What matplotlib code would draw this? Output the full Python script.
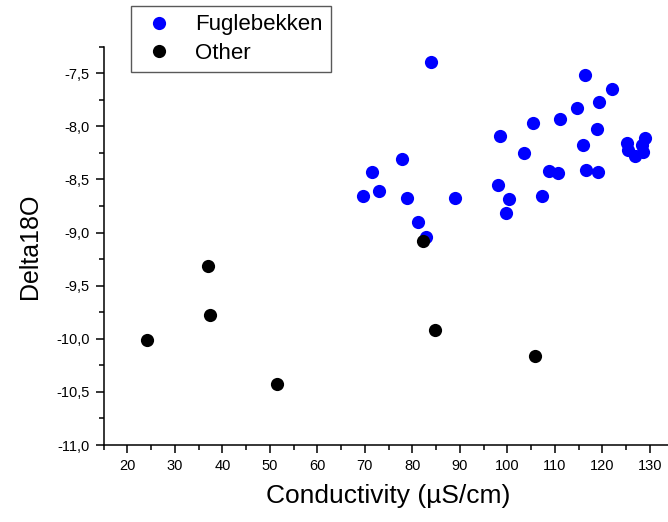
"""
Delta18O against conductivity, Fuglebekken samples vs other sites.
"""

import matplotlib
matplotlib.use("Agg")
from matplotlib import pyplot as plt
from matplotlib.ticker import MultipleLocator, FuncFormatter

plt.rcParams['font.family'] = ['Liberation Sans', 'DejaVu Sans']

# Fuglebekken samples: conductivity (uS/cm), delta18O
fugle_cond = [84.0, 116.3, 122.1, 119.3, 114.7, 111.0, 105.4, 98.5, 118.9, 116.0,
              103.4, 125.1, 125.4, 129.0, 128.3, 126.8, 128.5, 108.7, 110.6, 116.5,
              119.1, 98.1, 100.3, 99.6, 107.3, 89.0, 77.8, 71.4, 72.9, 69.7,
              78.9, 81.1, 82.8]
fugle_d18o = [-7.39, -7.52, -7.65, -7.77, -7.83, -7.93, -7.97, -8.09, -8.02, -8.18,
              -8.25, -8.16, -8.22, -8.11, -8.18, -8.28, -8.24, -8.42, -8.44, -8.41,
              -8.43, -8.55, -8.68, -8.82, -8.66, -8.67, -8.31, -8.43, -8.61, -8.66,
              -8.67, -8.90, -9.04]

# other sites
other_cond = [82.2, 37.0, 37.5, 24.2, 51.6, 84.7, 105.8]
other_d18o = [-9.08, -9.31, -9.78, -10.01, -10.43, -9.92, -10.16]

fig = plt.figure(figsize=(6.68, 5.22), dpi=100)
ax = fig.add_axes([0.155, 0.1475, 0.8536, 0.763])

ax.plot(fugle_cond, fugle_d18o, 'o', color='#0000ff', ms=9.5, mew=0, label='Fuglebekken')
ax.plot(other_cond, other_d18o, 'o', color='black', ms=9.5, mew=0, label='Other')

ax.set_xlim(15, 135)
ax.set_ylim(-11.0, -7.25)

for side in ['top', 'right']:
    ax.spines[side].set_visible(False)
for side in ['left', 'bottom']:
    ax.spines[side].set_linewidth(1.1)

ax.xaxis.set_major_locator(MultipleLocator(10))
ax.xaxis.set_minor_locator(MultipleLocator(5))
ax.yaxis.set_major_locator(MultipleLocator(0.5))
ax.yaxis.set_minor_locator(MultipleLocator(0.25))
ax.yaxis.set_major_formatter(FuncFormatter(lambda v, p: ('%.1f' % v).replace('.', ',')))

ax.tick_params(which='major', direction='out', length=6, width=1.1, labelsize=10.5, pad=4)
ax.tick_params(which='minor', direction='out', length=3.5, width=1.1)

ax.set_xlabel('Conductivity (µS/cm)', fontsize=19, labelpad=8)
ax.set_ylabel('Delta18O', fontsize=18, labelpad=10)

leg = ax.legend(loc='upper left', bbox_to_anchor=(131 / 668, 1 - 6 / 522),
                bbox_transform=fig.transFigure, borderaxespad=0, fontsize=16,
                fancybox=False, framealpha=1, edgecolor='0.35',
                handletextpad=0.7, borderpad=0.38, labelspacing=0.32, handlelength=1.8)
leg.get_frame().set_linewidth(1.0)

fig.savefig('out.png', dpi=100)
